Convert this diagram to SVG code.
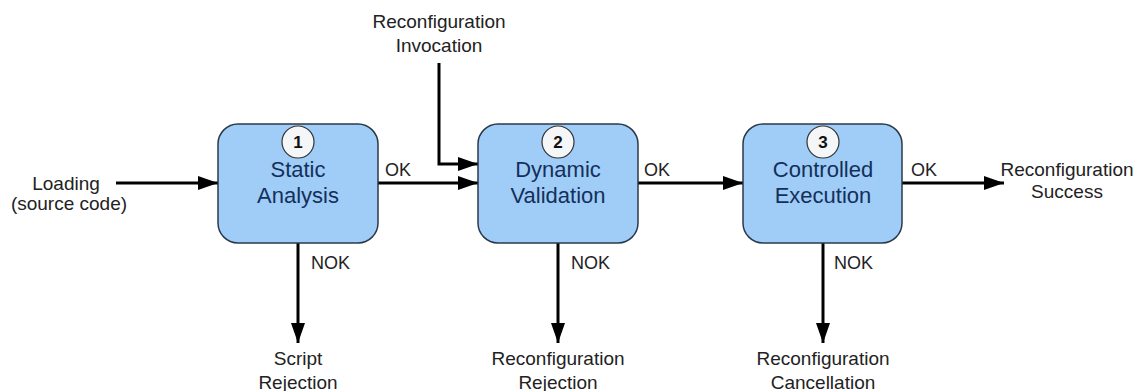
<svg xmlns="http://www.w3.org/2000/svg" width="1135" height="391" viewBox="0 0 1135 391">
<defs>
<marker id="ah" viewBox="0 0 20 14" refX="20" refY="7" markerWidth="20" markerHeight="14" markerUnits="userSpaceOnUse" orient="auto">
<path d="M0,0 L20,7 L0,14 Z" fill="#000"/>
</marker>
<style>
.box{fill:#9fcdf8;stroke:#2b3a4a;stroke-width:1.5}
.num{fill:#f4f6f8;stroke:#333;stroke-width:1.2}
.numt{font-family:"Liberation Sans",Arial,sans-serif;font-size:17px;font-weight:bold;fill:#111;text-anchor:middle}
.nt{font-family:"Liberation Sans",Arial,sans-serif;font-size:22px;fill:#14305a;text-anchor:middle}
.lb{font-family:"Liberation Sans",Arial,sans-serif;font-size:19px;fill:#222;text-anchor:middle}
.ok{font-family:"Liberation Sans",Arial,sans-serif;font-size:18px;fill:#222}
.ln{fill:none;stroke:#000;stroke-width:3}
</style>
</defs>
<rect width="1135" height="391" fill="#fff"/>
<g id="connectors">
<path class="ln" d="M116,183 L218,183" marker-end="url(#ah)"/>
<path class="ln" d="M378,183 L478,183" marker-end="url(#ah)"/>
<path class="ln" d="M439,63 L439,164 L478,164" marker-end="url(#ah)"/>
<path class="ln" d="M638,183 L743,183" marker-end="url(#ah)"/>
<path class="ln" d="M902,183 L1004,183" marker-end="url(#ah)"/>
<path class="ln" d="M298,243 L298,343" marker-end="url(#ah)"/>
<path class="ln" d="M558,243 L558,343" marker-end="url(#ah)"/>
<path class="ln" d="M823,243 L823,343" marker-end="url(#ah)"/>
<text class="ok" x="385" y="176">OK</text>
<text class="ok" x="644" y="176">OK</text>
<text class="ok" x="911" y="176">OK</text>
<text class="ok" x="311" y="269">NOK</text>
<text class="ok" x="571" y="269">NOK</text>
<text class="ok" x="834" y="269">NOK</text>
</g>
<g id="node1">
<rect class="box" x="218" y="124" width="160" height="119" rx="20"/>
<circle class="num" cx="298" cy="142" r="16"/>
<text class="numt" x="298" y="148">1</text>
<text class="nt" x="298" y="177">Static</text>
<text class="nt" x="298" y="203">Analysis</text>
</g>
<g id="node2">
<rect class="box" x="478" y="124" width="160" height="119" rx="20"/>
<circle class="num" cx="558" cy="142" r="16"/>
<text class="numt" x="558" y="148">2</text>
<text class="nt" x="558" y="177">Dynamic</text>
<text class="nt" x="558" y="203">Validation</text>
</g>
<g id="node3">
<rect class="box" x="743" y="124" width="159" height="119" rx="20"/>
<circle class="num" cx="823" cy="142" r="16"/>
<text class="numt" x="823" y="148">3</text>
<text class="nt" x="823" y="177">Controlled</text>
<text class="nt" x="823" y="203">Execution</text>
</g>
<g id="label-loading">
<text class="lb" x="66" y="190">Loading</text>
<text class="lb" x="69" y="210">(source code)</text>
</g>
<g id="label-invocation">
<text class="lb" x="439" y="28">Reconfiguration</text>
<text class="lb" x="439" y="52">Invocation</text>
</g>
<g id="label-success">
<text class="lb" x="1067" y="176">Reconfiguration</text>
<text class="lb" x="1067" y="198">Success</text>
</g>
<g id="label-script">
<text class="lb" x="298" y="365">Script</text>
<text class="lb" x="298" y="389">Rejection</text>
</g>
<g id="label-rejection">
<text class="lb" x="558" y="365">Reconfiguration</text>
<text class="lb" x="558" y="389">Rejection</text>
</g>
<g id="label-cancellation">
<text class="lb" x="823" y="365">Reconfiguration</text>
<text class="lb" x="823" y="389">Cancellation</text>
</g>
</svg>
